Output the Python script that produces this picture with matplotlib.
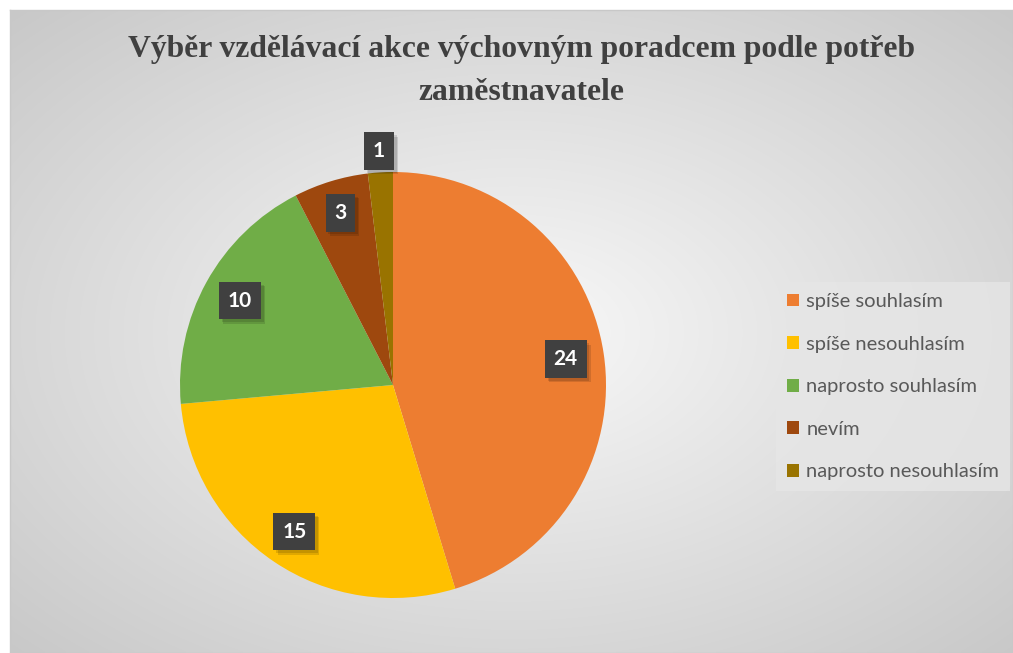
import numpy as np
import matplotlib
matplotlib.use("Agg")
import matplotlib.pyplot as plt
from matplotlib.patches import Patch
import matplotlib.patheffects as pe

# ---- data ----
categories = ["spíše souhlasím", "spíše nesouhlasím", "naprosto souhlasím", "nevím", "naprosto nesouhlasím"]
values = [24, 15, 10, 3, 1]
colors = ["#ED7D31", "#FFC000", "#70AD47", "#9E480E", "#997300"]
label_dist = [0.82, 0.83, 0.82, 0.845, 1.10]
title = "Výběr vzdělávací akce výchovným poradcem podle potřeb\nzaměstnavatele"

W, H = 1013, 653
fig = plt.figure(figsize=(W / 100, H / 100), dpi=100)
fig.patch.set_facecolor("white")

# background panel with radial gradient
bg = fig.add_axes([10 / W, 0, 1 - 10 / W, 1 - 10 / H])
ny, nx = 200, 300
yy, xx = np.mgrid[0:ny, 0:nx]
d = np.sqrt(((xx - nx / 2) / (nx / 2)) ** 2 + ((yy - ny / 2) / (ny / 2)) ** 2) / np.sqrt(2)
grad = 0.975 - 0.19 * d
bg.imshow(np.dstack([grad] * 3), aspect="auto", extent=[0, 1, 0, 1], interpolation="bilinear")
bg.set_xticks([]); bg.set_yticks([])
for s in bg.spines.values():
    s.set_color("#c8c8c8")
    s.set_linewidth(1.0)

# pie axes
cx, cy, R = 393, 385, 213
ax = fig.add_axes([(cx - R) / W, (H - cy - R) / H, 2 * R / W, 2 * R / H])
ax.set_facecolor("none")
wedges, _ = ax.pie(values, colors=colors, startangle=90, counterclock=False,
                   wedgeprops=dict(linewidth=0))
ax.set_xlim(-1, 1); ax.set_ylim(-1, 1)
ax.set_aspect("equal")
ax.axis("off")

shadow = [pe.SimplePatchShadow(offset=(3, -3), alpha=0.12, shadow_rgbFace="black"),
          pe.SimplePatchShadow(offset=(2, -2), alpha=0.12, shadow_rgbFace="black"),
          pe.Normal()]
for w, v, ld in zip(wedges, values, label_dist):
    ang = np.deg2rad((w.theta1 + w.theta2) / 2)
    t = ax.text(ld * np.cos(ang), ld * np.sin(ang), str(v), ha="center", va="center",
                color="white", fontsize=15, fontweight="bold", family="Lato",
                bbox=dict(boxstyle="square,pad=0.42", facecolor="#404040", edgecolor="none"))
    t.get_bbox_patch().set_path_effects(shadow)

fig.text(521 / W, 1 - 71 / H, title, ha="center", va="center", fontsize=22.8,
         fontweight="bold", family="Liberation Serif", color="#404040", linespacing=1.62)

handles = [Patch(facecolor=c, edgecolor="none") for c in colors]
leg = fig.legend(handles, categories, loc="upper left", bbox_to_anchor=(776 / W, 1 - 282 / H),
                 frameon=True, fancybox=False, prop=dict(family="Lato", size=14.5),
                 handlelength=0.6, handleheight=0.6, handletextpad=0.35, labelspacing=1.27,
                 borderpad=0.55, borderaxespad=0, labelcolor="#595959")
fr = leg.get_frame()
fr.set_facecolor("#e6e6e6"); fr.set_alpha(0.8); fr.set_edgecolor("none")

fig.savefig("out.png", dpi=100)
